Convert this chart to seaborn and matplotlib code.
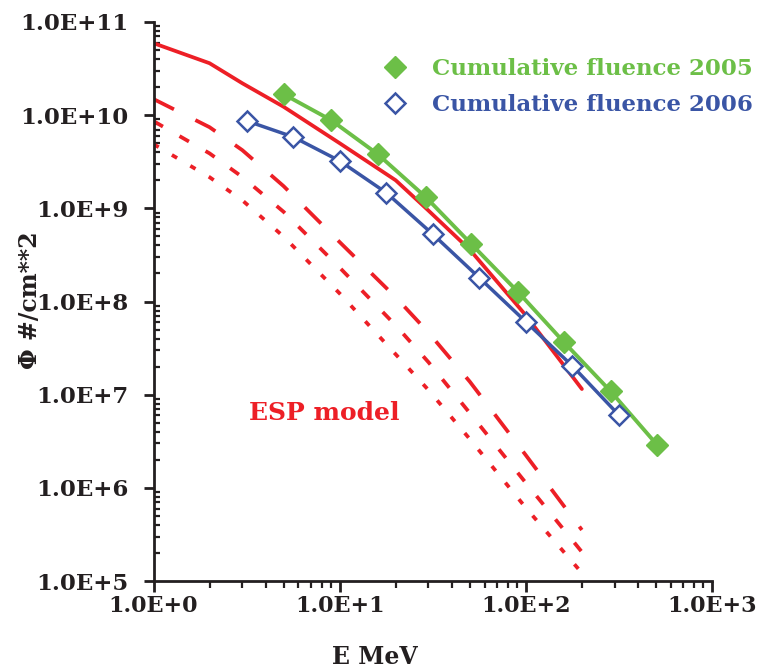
import numpy as np
import pandas as pd
import matplotlib
matplotlib.use("Agg")
import matplotlib.pyplot as plt
from matplotlib.lines import Line2D
from matplotlib.ticker import LogLocator, FixedLocator, NullFormatter, FuncFormatter
import seaborn as sns

# ---- data -------------------------------------------------------------
# ESP model curves (energies in MeV, fluence in #/cm^2)
esp_energy = [1, 2, 3, 5, 10, 20, 30, 50, 100, 200]
esp_solid = [5.93e10, 3.61e10, 2.20e10, 1.23e10, 5.0e9, 2.0e9, 9.45e8, 3.6e8, 7.1e7, 1.15e7]
esp_longdash = [1.49e10, 7.43e9, 4.21e9, 1.73e9, 4.34e8, 1.11e8, 4.64e7, 1.38e7, 2.24e6, 3.53e5]
esp_dash = [8.63e9, 3.89e9, 2.17e9, 9.17e8, 2.31e8, 5.54e7, 2.23e7, 6.35e6, 1.13e6, 2.05e5]
esp_dot = [4.89e9, 2.16e9, 1.22e9, 4.97e8, 1.22e8, 2.71e7, 1.12e7, 3.34e6, 6.11e5, 1.22e5]

# Cumulative fluence measurements
e_2005 = [5.0, 9.0, 16.0, 29.0, 51.0, 91.0, 160.0, 285.0, 508.0]
phi_2005 = [1.68e10, 8.84e9, 3.82e9, 1.32e9, 4.13e8, 1.26e8, 3.67e7, 1.09e7, 2.88e6]
e_2006 = [3.16, 5.62, 10.0, 17.8, 31.6, 56.2, 100.0, 178.0, 316.0]
phi_2006 = [8.69e9, 5.85e9, 3.23e9, 1.47e9, 5.29e8, 1.80e8, 6.06e7, 2.03e7, 6.04e6]

label_2005 = "Cumulative fluence 2005"
label_2006 = "Cumulative fluence 2006"
model_label = "ESP model"
x_label = "E MeV"
y_label = "Φ #/cm**2"
x_ticks = [1, 10, 100, 1000]
y_ticks = [1e5, 1e6, 1e7, 1e8, 1e9, 1e10, 1e11]

# ---- style ------------------------------------------------------------
sns.set_style("ticks")
plt.rcParams["font.family"] = ["DejaVu Serif"]
plt.rcParams["font.weight"] = "bold"
plt.rcParams["axes.labelweight"] = "bold"

RED = "#ed1f26"
GREEN = "#6cbf47"
BLUE = "#3a55a5"
INK = "#231f20"

fig = plt.figure(figsize=(7.58, 6.70), dpi=100)
ax = fig.add_axes([153.5 / 758, 1 - 581 / 670, (712 - 153.5) / 758, (581 - 22) / 670])
ax.set_xscale("log")
ax.set_yscale("log")

esp = pd.DataFrame({"E": esp_energy, "solid": esp_solid, "long": esp_longdash,
                    "dash": esp_dash, "dot": esp_dot})

LW = 2.7
sns.lineplot(data=esp, x="E", y="solid", ax=ax, color=RED, lw=LW,
             estimator=None, sort=False)
sns.lineplot(data=esp, x="E", y="long", ax=ax, color=RED, lw=LW,
             estimator=None, sort=False, linestyle=(0, (6.1, 6.4)), dash_capstyle="butt")
sns.lineplot(data=esp, x="E", y="dash", ax=ax, color=RED, lw=LW,
             estimator=None, sort=False, linestyle=(0, (2.9, 5.1)), dash_capstyle="butt")
sns.lineplot(data=esp, x="E", y="dot", ax=ax, color=RED, lw=LW,
             estimator=None, sort=False, linestyle=(0, (1.6, 4.1)), dash_capstyle="butt")

sns.lineplot(x=e_2005, y=phi_2005, ax=ax, color=GREEN, lw=2.8, estimator=None, sort=False,
             marker="D", markersize=11.5, markerfacecolor=GREEN, markeredgecolor=GREEN,
             markeredgewidth=1.0, zorder=4)
sns.lineplot(x=e_2006, y=phi_2006, ax=ax, color=BLUE, lw=2.5, estimator=None, sort=False,
             marker="D", markersize=10.5, markerfacecolor="white", markeredgecolor=BLUE,
             markeredgewidth=1.8, zorder=5)

ax.set_xlim(1, 1000)
ax.set_ylim(1e5, 1e11)

ax.xaxis.set_major_locator(FixedLocator(x_ticks))
ax.yaxis.set_major_locator(FixedLocator(y_ticks))
ax.xaxis.set_minor_locator(LogLocator(base=10, subs=np.arange(2, 10), numticks=50))
ax.yaxis.set_minor_locator(LogLocator(base=10, subs=np.arange(2, 10), numticks=50))
ax.xaxis.set_minor_formatter(NullFormatter())
ax.yaxis.set_minor_formatter(NullFormatter())
sci = FuncFormatter(lambda v, pos: "1.0E+{:d}".format(int(round(np.log10(v)))))
ax.xaxis.set_major_formatter(sci)
ax.yaxis.set_major_formatter(sci)

for side in ("top", "right"):
    ax.spines[side].set_visible(False)
for side in ("left", "bottom"):
    ax.spines[side].set_linewidth(2.0)
    ax.spines[side].set_color(INK)

ax.tick_params(axis="x", which="major", direction="out", length=8, width=2.0,
               pad=2, labelsize=16, colors=INK)
ax.tick_params(axis="x", which="minor", direction="out", length=5, width=1.6, colors=INK)
ax.tick_params(axis="y", which="major", direction="out", length=7, width=2.0,
               pad=11, labelsize=16.5, colors=INK)
ax.tick_params(axis="y", which="minor", direction="in", length=4, width=1.6, colors=INK)

ax.set_xlabel(x_label, fontsize=17, color=INK)
ax.set_ylabel(y_label, fontsize=17, color=INK)
ax.xaxis.set_label_coords(0.397, -0.115)
ax.yaxis.set_label_coords(-0.199, 0.503)

ax.text(8.3, 6.4e6, model_label, color=RED, fontsize=18, ha="center", va="center")

handles = [
    Line2D([], [], linestyle="none", marker="D", markersize=11.5, markerfacecolor=GREEN,
           markeredgecolor=GREEN),
    Line2D([], [], linestyle="none", marker="D", markersize=10.5, markerfacecolor="white",
           markeredgecolor=BLUE, markeredgewidth=1.8),
]
leg = fig.legend(handles, [label_2005, label_2006], loc="upper left",
                 bbox_to_anchor=(383.5 / 758, 1 - 58 / 670), frameon=False,
                 fontsize=16.5, borderpad=0, borderaxespad=0, handlelength=1.0,
                 handletextpad=1.1, labelspacing=0.61, labelcolor=[GREEN, BLUE])

fig.savefig("out.png", dpi=100)
